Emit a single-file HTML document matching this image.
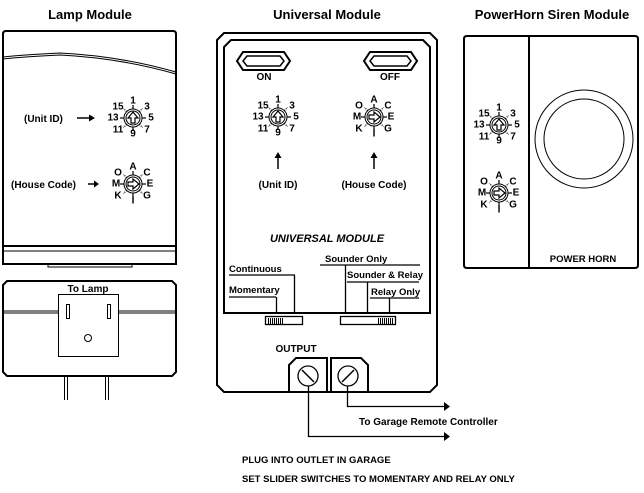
<!DOCTYPE html>
<html><head><style>
html,body{margin:0;padding:0;background:#fff;}
svg{display:block;}
text{font-family:"Liberation Sans",sans-serif;font-weight:bold;fill:#000;}
</style></head><body>
<svg width="644" height="493" viewBox="0 0 644 493" xmlns="http://www.w3.org/2000/svg">
<defs>
<g id="dialbase">
  <circle r="9" fill="#fff" stroke="#000" stroke-width="1"/>
  <circle r="7" fill="none" stroke="#000" stroke-width="1"/>
  <g stroke="#000" stroke-width="1.2">
    <line x1="0" y1="-9" x2="0" y2="-13"/><line x1="0" y1="9" x2="0" y2="13"/>
    <line x1="-9" y1="0" x2="-13" y2="0"/><line x1="9" y1="0" x2="13" y2="0"/>
    <line x1="6.4" y1="-6.4" x2="9.5" y2="-9.5" stroke-dasharray="1 1"/>
    <line x1="-6.4" y1="-6.4" x2="-9.5" y2="-9.5" stroke-dasharray="1 1"/>
    <line x1="6.4" y1="6.4" x2="9.5" y2="9.5" stroke-dasharray="1 1"/>
    <line x1="-6.4" y1="6.4" x2="-9.5" y2="9.5" stroke-dasharray="1 1"/>
  </g>
</g>
<g id="udial">
  <use href="#dialbase"/>
  <path d="M0,-6 L5,0 L2,0 L2,5 L-2,5 L-2,0 L-5,0 Z" fill="#fff" stroke="#000" stroke-width="1.2"/>
</g>
<g id="hdial">
  <use href="#dialbase"/>
  <path d="M6,0 L0,5 L0,2 L-5,2 L-5,-2 L0,-2 L0,-5 Z" fill="#fff" stroke="#000" stroke-width="1.2"/>
</g>
</defs>

<text x="90" y="19" font-size="13" text-anchor="middle">Lamp Module</text>
<text x="327" y="19" font-size="13" text-anchor="middle">Universal Module</text>
<text x="552" y="19" font-size="13" text-anchor="middle">PowerHorn Siren Module</text>

<g fill="none" stroke="#000">
<path d="M3,264 L3,34 Q3,31 6,31 L173,31 Q176,31 176,34 L176,264 Z" stroke-width="2"/>
<path d="M3,57 Q20,55 60,53 Q120,56 176,72" stroke-width="1"/>
<path d="M3,59 Q20,57 60,55 Q120,58 176,74" stroke-width="1"/>
<line x1="3" y1="246" x2="176" y2="246" stroke-width="2"/>
<line x1="3" y1="251" x2="176" y2="251" stroke-width="1"/>
<rect x="48" y="264" width="84" height="3" stroke-width="1"/>
<path d="M3,285 L7,281 L172,281 L176,285 L176,372 L172,376 L7,376 L3,372 Z" stroke-width="2"/>
<line x1="3" y1="311" x2="58" y2="311"/><line x1="3" y1="313" x2="58" y2="313"/>
<line x1="118" y1="311" x2="176" y2="311"/><line x1="118" y1="313" x2="176" y2="313"/>
<rect x="58.5" y="294.5" width="60" height="62"/>
<rect x="66.5" y="304.5" width="3" height="14"/>
<rect x="107.5" y="304.5" width="3" height="14"/>
<circle cx="88" cy="338" r="3.5"/>
<line x1="64.5" y1="377" x2="64.5" y2="400"/><line x1="67.5" y1="377" x2="67.5" y2="400"/>
<line x1="105.5" y1="377" x2="105.5" y2="400"/><line x1="108.5" y1="377" x2="108.5" y2="400"/>

<path d="M217,40 L224,33 L430,33 L437,40 L437,385 L430,392 L224,392 L217,385 Z" stroke-width="2"/>
<path d="M224,313 L224,47 L231,40 L423,40 L430,47 L430,313 Z" stroke-width="2"/>
<path d="M237,61 L243,52 L284,52 L290,61 L284,70 L243,70 Z" stroke-width="2"/>
<path d="M243,61 L247,56 L280,56 L284,61 L280,66 L247,66 Z" stroke-width="1.5"/>
<path d="M364,61 L370,52 L411,52 L417,61 L411,70 L370,70 Z" stroke-width="2"/>
<path d="M370,61 L374,56 L407,56 L411,61 L407,66 L374,66 Z" stroke-width="1.5"/>
<line x1="278" y1="156" x2="278" y2="169" stroke-width="1.5"/>
<line x1="374" y1="156" x2="374" y2="169" stroke-width="1.5"/>
<g stroke-width="1.3">
<line x1="229" y1="275" x2="295" y2="275"/><line x1="294.5" y1="275" x2="294.5" y2="313"/>
<line x1="229" y1="297" x2="276" y2="297"/><line x1="276.5" y1="297" x2="276.5" y2="313"/>
<line x1="320" y1="265" x2="420" y2="265"/><line x1="345.5" y1="265" x2="345.5" y2="313"/>
<line x1="347" y1="282" x2="419" y2="282"/><line x1="367.5" y1="282" x2="367.5" y2="313"/>
<line x1="370" y1="298" x2="419" y2="298"/><line x1="389.5" y1="298" x2="389.5" y2="313"/>
</g>
<rect x="265.5" y="316.5" width="37" height="8" stroke-width="1.3"/>
<rect x="340.5" y="316.5" width="55" height="8" stroke-width="1.3"/>
<g stroke-width="1">
<line x1="268.5" y1="318" x2="268.5" y2="324"/><line x1="270.5" y1="318" x2="270.5" y2="324"/><line x1="272.5" y1="318" x2="272.5" y2="324"/><line x1="274.5" y1="318" x2="274.5" y2="324"/><line x1="276.5" y1="318" x2="276.5" y2="324"/><line x1="278.5" y1="318" x2="278.5" y2="324"/><line x1="280.5" y1="318" x2="280.5" y2="324"/><line x1="282.5" y1="318" x2="282.5" y2="324"/>
<line x1="378.5" y1="318" x2="378.5" y2="324"/><line x1="380.5" y1="318" x2="380.5" y2="324"/><line x1="382.5" y1="318" x2="382.5" y2="324"/><line x1="384.5" y1="318" x2="384.5" y2="324"/><line x1="386.5" y1="318" x2="386.5" y2="324"/><line x1="388.5" y1="318" x2="388.5" y2="324"/><line x1="390.5" y1="318" x2="390.5" y2="324"/><line x1="392.5" y1="318" x2="392.5" y2="324"/>
</g>
<path d="M289,392 L289,365 L296,358 L327,358 L327,392" stroke-width="2"/>
<path d="M331,392 L331,358 L361,358 L368,365 L368,392" stroke-width="2"/>
<circle cx="308" cy="376" r="10" stroke-width="1.3"/>
<line x1="302" y1="370" x2="314" y2="382" stroke-width="1.5"/>
<circle cx="348" cy="376" r="10" stroke-width="1.3"/>
<line x1="342" y1="382" x2="354" y2="370" stroke-width="1.5"/>
<path d="M308.5,386 L308.5,436.5 L444,436.5" stroke-width="1.3"/>
<path d="M347.5,386 L347.5,406.5 L444,406.5" stroke-width="1.3"/>

<path d="M464,39 Q464,36 467,36 L635,36 Q638,36 638,39 L638,265 Q638,268 635,268 L467,268 Q464,268 464,265 Z" stroke-width="2"/>
<line x1="529" y1="36" x2="529" y2="268" stroke-width="2"/>
<circle cx="584" cy="139" r="49" stroke-width="1"/>
<circle cx="584" cy="139" r="40" stroke-width="1"/>
</g>
<path d="M444,402 L450,406.5 L444,411 Z" fill="#000"/>
<path d="M444,432 L450,436.5 L444,441 Z" fill="#000"/>
<path d="M278,152 L274.5,158 L281.5,158 Z" fill="#000"/>
<path d="M374,152 L370.5,158 L377.5,158 Z" fill="#000"/>

<line x1="77" y1="118" x2="92" y2="118" stroke="#000" stroke-width="1.5"/>
<path d="M95,118 L89,114.5 L89,121.5 Z" fill="#000"/>
<line x1="88" y1="184" x2="96" y2="184" stroke="#000" stroke-width="1.5"/>
<path d="M99,184 L94,180.5 L94,187.5 Z" fill="#000"/>

<use href="#udial" x="133" y="118"/>
<use href="#hdial" x="133" y="184"/>
<use href="#udial" x="278" y="117"/>
<use href="#hdial" x="374" y="117"/>
<use href="#udial" x="499" y="125"/>
<use href="#hdial" x="499" y="193"/>

<g font-size="10" text-anchor="middle" dominant-baseline="central">
<g transform="translate(133,118)"><text x="0" y="-17">1</text><text x="14" y="-11">3</text><text x="18" y="0">5</text><text x="14" y="12">7</text><text x="0" y="16">9</text><text x="-15" y="12">11</text><text x="-20" y="0">13</text><text x="-15" y="-11">15</text></g>
<g transform="translate(278,117)"><text x="0" y="-17">1</text><text x="14" y="-11">3</text><text x="18" y="0">5</text><text x="14" y="12">7</text><text x="0" y="16">9</text><text x="-15" y="12">11</text><text x="-20" y="0">13</text><text x="-15" y="-11">15</text></g>
<g transform="translate(499,125)"><text x="0" y="-17">1</text><text x="14" y="-11">3</text><text x="18" y="0">5</text><text x="14" y="12">7</text><text x="0" y="16">9</text><text x="-15" y="12">11</text><text x="-20" y="0">13</text><text x="-15" y="-11">15</text></g>
<g transform="translate(133,184)"><text x="0" y="-17">A</text><text x="14" y="-11">C</text><text x="17" y="0">E</text><text x="14" y="12">G</text><text x="0" y="17">I</text><text x="-15" y="12">K</text><text x="-17" y="0">M</text><text x="-15" y="-11">O</text></g>
<g transform="translate(374,117)"><text x="0" y="-17">A</text><text x="14" y="-11">C</text><text x="17" y="0">E</text><text x="14" y="12">G</text><text x="0" y="17">I</text><text x="-15" y="12">K</text><text x="-17" y="0">M</text><text x="-15" y="-11">O</text></g>
<g transform="translate(499,193)"><text x="0" y="-17">A</text><text x="14" y="-11">C</text><text x="17" y="0">E</text><text x="14" y="12">G</text><text x="0" y="17">I</text><text x="-15" y="12">K</text><text x="-17" y="0">M</text><text x="-15" y="-11">O</text></g>
</g>

<g font-size="10">
<text x="24" y="122">(Unit ID)</text>
<text x="11" y="188">(House Code)</text>
<text x="88" y="292" text-anchor="middle">To Lamp</text>
<text x="264" y="80" text-anchor="middle">ON</text>
<text x="390" y="80" text-anchor="middle">OFF</text>
<text x="278" y="188" text-anchor="middle">(Unit ID)</text>
<text x="374" y="188" text-anchor="middle">(House Code)</text>
<text x="327" y="242" text-anchor="middle" font-style="italic" font-size="11" font-weight="bold">UNIVERSAL MODULE</text>
<text x="229" y="272" font-size="9.5">Continuous</text>
<text x="229" y="293" font-size="9.5">Momentary</text>
<text x="325" y="262" font-size="9.5">Sounder Only</text>
<text x="347" y="278" font-size="9.5">Sounder &amp; Relay</text>
<text x="371" y="295" font-size="9.5">Relay Only</text>
<text x="296" y="352" text-anchor="middle">OUTPUT</text>
<text x="359" y="425">To Garage Remote Controller</text>
<text x="242" y="463" font-size="9.5">PLUG INTO OUTLET IN GARAGE</text>
<text x="242" y="482" font-size="9.5">SET SLIDER SWITCHES TO MOMENTARY AND RELAY ONLY</text>
<text x="583" y="262" text-anchor="middle" font-size="9.5">POWER HORN</text>
</g>
</svg>
</body></html>
